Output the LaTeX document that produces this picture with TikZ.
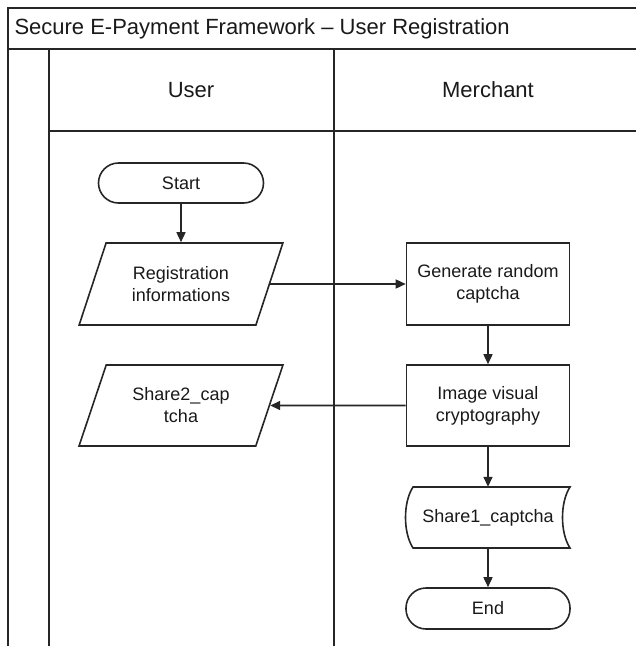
\documentclass[tikz,border=0pt]{standalone}
\usepackage{fontspec}
\setmainfont{Liberation Sans}
\usetikzlibrary{shapes.geometric,arrows.meta}

\tikzset{
  frameline/.style={line width=2pt, draw=black!85},
  lanetext/.style={font=\fontsize{22}{26}\selectfont, text=black!90},
  nodetext/.style={font=\fontsize{18}{22}\selectfont, text=black!90, align=center},
  terminal/.style={nodetext, draw=black!85, line width=1.6pt, rounded corners=20pt,
    minimum width=165pt, minimum height=40pt, inner sep=0pt},
  process/.style={nodetext, draw=black!85, line width=1.6pt, rectangle,
    minimum width=163pt, minimum height=82pt, inner sep=0pt},
  iobox/.style={nodetext, draw=black!85, line width=1.6pt, trapezium,
    trapezium left angle=63.4, trapezium right angle=116.6, trapezium stretches=true,
    minimum width=204pt, minimum height=82pt, inner sep=0pt},
  storebox/.style={nodetext, rectangle, minimum width=164pt, minimum height=61pt, inner sep=0pt},
  flow/.style={line width=1.6pt, draw=black!85, -{Triangle[length=10pt,width=9pt]}}
}

\begin{document}
\begin{tikzpicture}[x=1pt, y=-1pt]
\useasboundingbox (0,0) rectangle (636,646);

% swimlane frame
\draw[frameline] (636,8) -- (8,8) -- (8,646);
\draw[frameline] (8,49) -- (636,49);
\draw[frameline] (49,49) -- (49,646);
\draw[frameline] (49,131) -- (636,131);
\draw[frameline] (334,49) -- (334,646);

\node[lanetext, anchor=west] (title) at (11,29) {Secure E-Payment Framework – User Registration};
\node[lanetext] (laneuser) at (191,90) {User};
\node[lanetext] (lanemerchant) at (488,90) {Merchant};

% flow nodes
\node[terminal] (start) at (181,183) {Start};
\node[iobox] (reg) at (181,284) {Registration\\informations};
\node[process] (gen) at (488,284) {Generate random\\captcha};
\node[process, minimum height=81pt] (img) at (488,405.5) {Image visual\\cryptography};
\node[iobox, minimum height=81pt] (share2) at (181,405.5) {Share2\_cap\\tcha};
\node[storebox] (share1) at (488,517.5) {Share1\_captcha};
\node[terminal, minimum width=164pt, minimum height=41pt] (end) at (488,608.5) {End};

% stored-data outline
\begin{scope}[shift={(share1.center)}]
\draw[line width=1.6pt, draw=black!85]
  (-75,-30.5) -- (82,-30.5) .. controls (72,-15) and (72,15) .. (82,30.5)
  -- (-75,30.5) .. controls (-85,15) and (-85,-15) .. cycle;
\end{scope}

% connectors
\draw[flow] (start) -- (reg);
\draw[flow] (reg) -- (gen);
\draw[flow] (gen) -- (img);
\draw[flow] (img) -- (share2);
\draw[flow] (img) -- (share1);
\draw[flow] (share1) -- (end);
\end{tikzpicture}
\end{document}
